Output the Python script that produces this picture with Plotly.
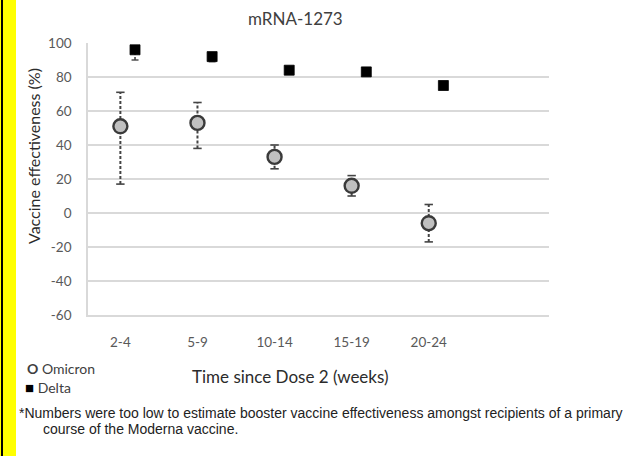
import plotly.graph_objects as go

categories = ["2-4", "5-9", "10-14", "15-19", "20-24"]
omicron = [51, 53, 33, 16, -6]
omicron_lo = [17, 38, 26, 10, -17]
omicron_hi = [71, 65, 40, 22, 5]
delta = [96, 92, 84, 83, 75]
delta_lo = [90, 89, 83, 82, 74]
delta_hi = [98, 94, 85, 84, 76]
y_ticks = [-60, -40, -20, 0, 20, 40, 60, 80, 100]
y_ticktext = [str(v) for v in y_ticks]

W, H = 631, 456
L, R, T, B = 88, 549, 43, 315

def px(x):
    return (x - L) / (R - L)

def py(y):
    return (B - y) / (B - T)

xo = list(range(len(categories)))
xd = [i + 0.19 for i in xo]

def whiskers(xs, lo, hi):
    lx, ly = [], []
    for x, a, b in zip(xs, lo, hi):
        lx += [x, x, None]
        ly += [a, b, None]
    return lx, ly

ERR = "#444444"
fig = go.Figure()

wx, wy = whiskers(xo, omicron_lo, omicron_hi)
fig.add_trace(go.Scatter(x=wx, y=wy, mode="lines", line=dict(color=ERR, width=2, dash="3px,2px"),
                         showlegend=False, hoverinfo="skip"))
fig.add_trace(go.Scatter(x=xo + xo, y=omicron_lo + omicron_hi, mode="markers",
                         marker=dict(symbol="line-ew", size=6, line=dict(color=ERR, width=1.6)),
                         showlegend=False, hoverinfo="skip"))
dwx, dwy = whiskers(xd, delta_lo, delta_hi)
fig.add_trace(go.Scatter(x=dwx, y=dwy, mode="lines", line=dict(color=ERR, width=1.6, dash="3px,2px"),
                         showlegend=False, hoverinfo="skip"))
fig.add_trace(go.Scatter(x=xd[:2], y=delta_lo[:2], mode="markers",
                         marker=dict(symbol="line-ew", size=5, line=dict(color=ERR, width=1.4)),
                         showlegend=False, hoverinfo="skip"))

fig.add_trace(go.Scatter(x=xo, y=omicron, mode="markers", name="Omicron",
                         marker=dict(symbol="circle", size=14, color="#c0c0c0",
                                     line=dict(color="#3a3a3a", width=2.4)),
                         showlegend=False))
fig.add_trace(go.Scatter(x=xd, y=delta, mode="markers", name="Delta",
                         marker=dict(symbol="square", size=10, color="#000000",
                                     line=dict(color="#000000", width=0.8)),
                         showlegend=False))

fig.update_layout(
    width=W, height=H,
    margin=dict(l=L, r=W - R, t=T, b=H - B),
    paper_bgcolor="white", plot_bgcolor="white",
    font=dict(family="Lato", color="#595959"),
    xaxis=dict(range=[-0.42, 5.56], tickvals=xo, ticktext=categories, showgrid=False,
               zeroline=False, showline=True, linecolor="#d9d9d9", linewidth=1.5,
               tickfont=dict(size=13.5, color="#595959"), ticks="", ticklabelstandoff=14),
    yaxis=dict(range=[-60, 100], tickvals=y_ticks, ticktext=y_ticktext, showgrid=True,
               gridcolor="#d9d9d9", gridwidth=1.5,
               zeroline=False, showline=True, linecolor="#d9d9d9", linewidth=1.5,
               tickfont=dict(size=13.5, color="#595959"), ticks="", ticklabelstandoff=12),
    shapes=[
        dict(type="line", xref="paper", yref="paper", x0=px(8), x1=px(8), y0=py(H), y1=py(0),
             line=dict(color="#ffff00", width=16)),
        dict(type="line", xref="paper", yref="paper", x0=px(2), x1=px(2), y0=py(H), y1=py(0),
             line=dict(color="#000000", width=2)),
    ],
    annotations=[
        dict(text="mRNA-1273", xref="paper", yref="paper", x=px(295), y=py(18), showarrow=False,
             font=dict(size=17, color="#404040", family="Lato"), xanchor="center", yanchor="middle"),
        dict(text="Vaccine effectiveness (%)", xref="paper", yref="paper", x=px(33), y=py(156),
             showarrow=False, textangle=-90, font=dict(size=16, color="#2b2b2b", family="Lato"),
             xanchor="center", yanchor="middle"),
        dict(text="Time since Dose 2 (weeks)", xref="paper", yref="paper", x=px(290), y=py(376),
             showarrow=False, font=dict(size=17, color="#2b2b2b", family="Lato"),
             xanchor="center", yanchor="middle"),
        dict(text="<b>O</b> Omicron", xref="paper", yref="paper", x=px(25), y=py(368),
             showarrow=False, font=dict(size=14, color="#404040", family="Lato"),
             xanchor="left", yanchor="middle"),
        dict(text="<span style='font-size:15px;color:#000'>■</span> Delta", xref="paper", yref="paper",
             x=px(23), y=py(387),
             showarrow=False, font=dict(size=14, color="#404040", family="Lato"),
             xanchor="left", yanchor="middle"),
        dict(text="*Numbers were too low to estimate booster vaccine effectiveness amongst recipients of a primary",
             xref="paper", yref="paper", x=px(17), y=py(413), showarrow=False,
             font=dict(size=14, color="#222222", family="Liberation Sans"), xanchor="left", yanchor="middle"),
        dict(text="course of the Moderna vaccine.",
             xref="paper", yref="paper", x=px(41), y=py(429), showarrow=False,
             font=dict(size=14, color="#222222", family="Liberation Sans"), xanchor="left", yanchor="middle"),
    ],
)

fig.write_html("out.html")
